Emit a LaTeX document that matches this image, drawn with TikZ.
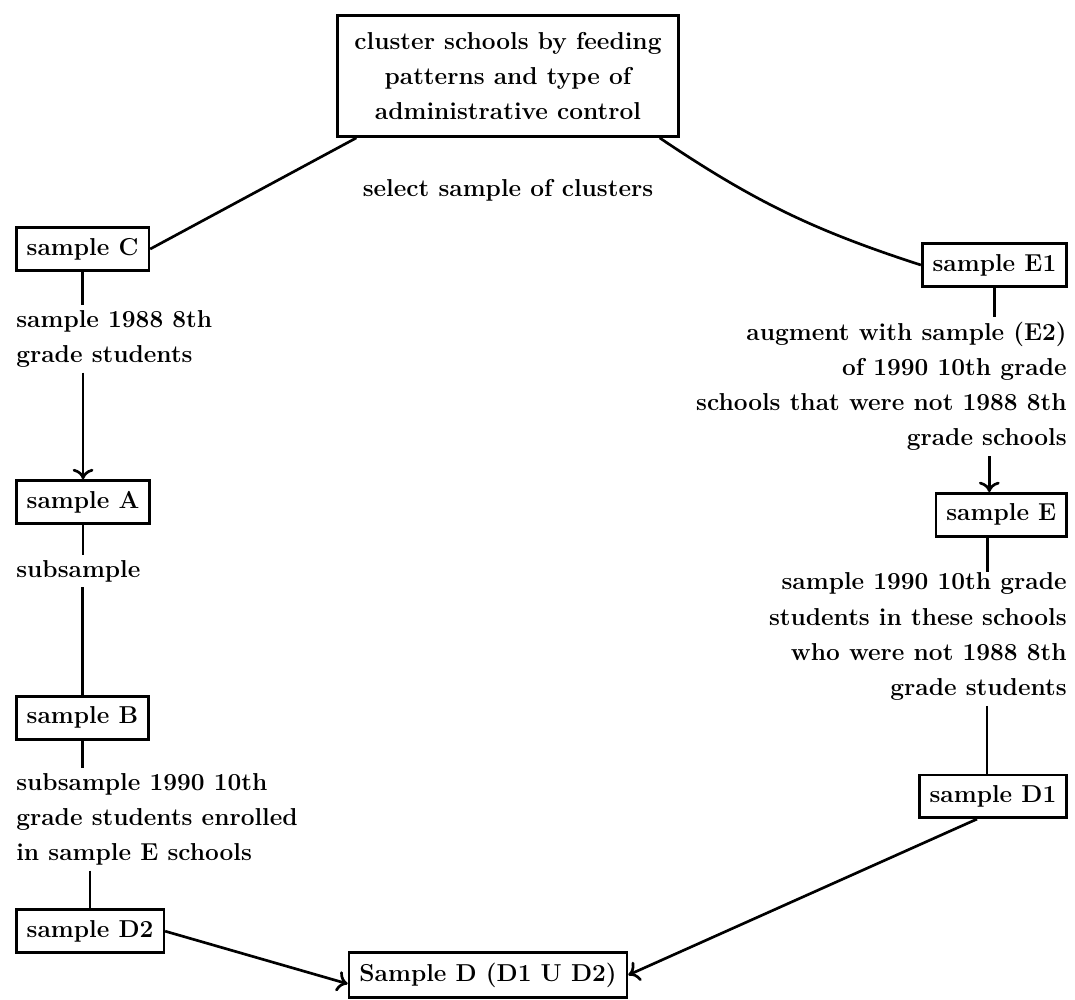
\documentclass[tikz,border=0pt]{standalone}
\usepackage{tikz}
\usetikzlibrary{positioning,arrows.meta,calc}

\tikzset{
  every node/.style={font=\fontsize{17.4}{25}\selectfont\bfseries},
  smp/.style={draw, line width=1.9pt, inner sep=0.26cm, minimum height=1.07cm},
  note/.style={inner sep=0pt},
  link/.style={shorten >=3pt},
  >={To[length=2.6mm,width=5.2mm]},
}

\begin{document}
\begin{tikzpicture}[line width=1.9pt]
\useasboundingbox (0,0) rectangle (26.875,-25);

\node[smp, inner sep=0.42cm, align=center] (clus) at (12.7,-1.9) {cluster schools by feeding\\patterns and type of\\administrative control};
\node[note] (sel) [below=1.0cm of clus] {select sample of clusters};

% left branch
\node[smp, anchor=west] (c) at (0.375,-6.225) {sample C};
\node[note, align=left] (tc) [below=0.925cm of c.south west, anchor=north west] {sample 1988 8th\\grade students};
\node[smp] (a) [below=2.77cm of tc.south west, anchor=north west] {sample A};
\node[note] (ta) [below=0.85cm of a.south west, anchor=north west] {subsample};
\node[smp] (b) [below=2.8cm of ta.south west, anchor=north west] {sample B};
\node[note, align=left] (tb) [below=0.78cm of b.south west, anchor=north west] {subsample 1990 10th\\grade students enrolled\\in sample E schools};
\node[smp] (d2) [below=1.05cm of tb.south west, anchor=north west] {sample D2};

% right branch
\node[smp, anchor=east] (e1) at (26.7,-6.625) {sample E1};
\node[note, align=right] (te1) [below=0.825cm of e1.south east, anchor=north east] {augment with sample (E2)\\of 1990 10th grade\\schools that were not 1988 8th\\grade schools};
\node[smp] (e) [below=1.0cm of te1.south east, anchor=north east] {sample E};
\node[note, align=right] (te) [below=0.85cm of e.south east, anchor=north east] {sample 1990 10th grade\\students in these schools\\who were not 1988 8th\\grade students};
\node[smp] (d1) [below=1.8cm of te.south east, anchor=north east] {sample D1};

\node[smp] (d) at (12.2,-24.375) {Sample D (D1 U D2)};

\draw ([xshift=0.5cm]clus.south west) -- (c.east);
\draw ([xshift=-0.5cm]clus.south east) to[bend right=8] (e1.west);

\draw[link] (c.south) -- (c.south |- tc.north);
\draw[->] ([yshift=-3pt]a.north |- tc.south) -- (a.north);
\draw[link] (a.south) -- (a.south |- ta.north);
\draw ([yshift=-3pt]b.north |- ta.south) -- (b.north);
\draw[link] (b.south) -- (b.south |- tb.north);
\draw ([yshift=-3pt]d2.north |- tb.south) -- (d2.north);

\draw[link] (e1.south) -- (e1.south |- te1.north);
\draw[->] ([xshift=-0.3cm,yshift=-3pt]e.north |- te1.south) -- ([xshift=-0.3cm]e.north);
\draw ([xshift=-0.35cm]e.south) -- ([xshift=-0.35cm]e.south |- te.north);
\draw ([xshift=-0.15cm,yshift=-3pt]d1.north |- te.south) -- ([xshift=-0.15cm]d1.north);

\draw[->] (d2.east) -- ([yshift=-0.22cm]d.west);
\draw[->] (d1.-125) -- (d.east);
\end{tikzpicture}
\end{document}
